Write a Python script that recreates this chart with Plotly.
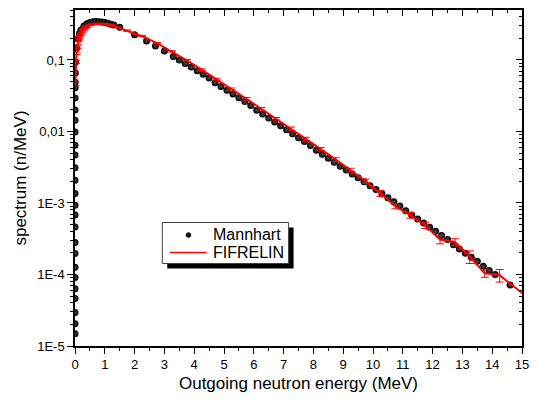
import plotly.graph_objects as go

# ---------------- data ----------------
mann_E = [4.9e-10, 9.4e-10, 1.9e-9, 4.8e-9, 8.9e-9, 1.9e-8, 3.6e-8, 8.7e-8, 1.8e-7,
          4.8e-7, 1.0e-6, 1.9e-6, 4.2e-6, 9.7e-6, 2.2e-5, 5.0e-5, 9.2e-5, 2.2e-4,
          4.7e-4, 9.0e-4, 1.9e-3, 3.8e-3, 5.4e-3, 9.8e-3,
          0.02, 0.05, 0.1, 0.15, 0.2, 0.3, 0.4, 0.5, 0.6, 0.7, 0.8, 0.9, 1.0,
          1.1, 1.2, 1.3, 1.5, 2.0, 2.4, 2.7, 3.0, 3.3, 3.5, 3.7, 3.9, 4.1, 4.3,
          4.5, 4.7, 4.9, 5.1, 5.3, 5.5, 5.7, 5.9, 6.1, 6.3, 6.5, 6.7, 6.9, 7.1,
          7.3, 7.5, 7.7, 7.9, 8.1, 8.3, 8.5, 8.7, 8.9, 9.1, 9.3, 9.5, 9.7, 9.9,
          10.1, 10.3, 10.5, 10.7, 10.9, 11.1, 11.3, 11.5, 11.7, 11.9, 12.1, 12.3,
          12.5, 12.7, 12.9, 13.1, 13.3, 13.5, 13.7, 13.9, 14.1, 14.6]
mann_spec = [1.48e-5, 2.04e-5, 2.93e-5, 4.6e-5, 6.3e-5, 9.1e-5, 1.26e-4, 1.97e-4, 2.8e-4,
             4.6e-4, 6.8e-4, 9.3e-4, 1.36e-3, 2.08e-3, 3.1e-3, 4.7e-3, 6.4e-3, 9.8e-3,
             1.44e-2, 2.0e-2, 2.94e-2, 4.1e-2, 4.9e-2, 6.6e-2,
             0.0939, 0.1454, 0.1985, 0.2347, 0.2617, 0.2987, 0.3214, 0.3349, 0.3419,
             0.3442, 0.3429, 0.3391, 0.3331, 0.3255, 0.3168, 0.3074, 0.2868, 0.2260,
             0.1849, 0.1572, 0.1340, 0.1116, 0.0997, 0.0891, 0.0795, 0.0708, 0.0630,
             0.0560, 0.0481, 0.0427, 0.0378, 0.0335, 0.0297, 0.0262, 0.0231, 0.01981,
             0.01749, 0.01544, 0.01361, 0.01199, 0.01057, 0.00931, 0.00820, 0.00722,
             0.00635, 0.00546, 0.00480, 0.00422, 0.00371, 0.00327, 0.00289, 0.00255,
             0.00225, 0.00198, 0.00174, 0.00154, 0.00135, 0.00118, 0.00104, 0.000908,
             0.000778, 0.000681, 0.000597, 0.000523, 0.000458, 0.000401, 0.000351,
             0.000308, 0.000260, 0.000228, 0.000199, 0.000174, 0.000153, 0.000130,
             0.000114, 0.0000998, 0.0000714]

fif_E = [0.01, 0.03, 0.05, 0.075, 0.1, 0.125, 0.15, 0.2, 0.25, 0.3, 0.35, 0.4, 0.5,
         0.6, 0.7, 0.8, 0.9, 1.0, 1.125, 1.25, 1.75, 2.25, 2.75, 3.25, 3.75, 4.25,
         4.75, 5.25, 5.75, 6.25, 6.75, 7.25, 7.75, 8.25, 8.75, 9.25, 9.75, 10.25,
         10.75, 11.25, 11.75, 12.25, 12.75, 13.25, 13.75, 14.25, 15.25]
fif_spec = [0.047, 0.094, 0.124, 0.151, 0.173, 0.191, 0.207, 0.233, 0.253, 0.269, 0.282,
            0.293, 0.307, 0.315, 0.319, 0.319, 0.319, 0.317, 0.311, 0.303, 0.257, 0.215,
            0.172, 0.132, 0.0987, 0.0731, 0.0539, 0.0394, 0.0287, 0.0208, 0.01507,
            0.01098, 0.00790, 0.00567, 0.00405, 0.00289, 0.00202, 0.00136, 0.00090,
            0.000675, 0.000489, 0.000308, 0.000285, 0.000178, 0.000104, 0.000098,
            0.0000454]
fif_relerr_pct = [6, 5, 4, 4, 4, 3, 3, 3, 3, 3, 3, 3, 2, 2, 2, 2, 2, 2, 2, 2, 2, 2, 2, 2,
                  3, 3, 3, 3, 4, 4, 4, 5, 5, 5, 6, 6, 7, 9, 8, 9, 10, 13, 11, 20, 12, 20, 0]

x_tickvals = list(range(0, 16))
y_tickvals = [1e-5, 1e-4, 1e-3, 1e-2, 1e-1]
y_ticktext = ["1E-5", "1E-4", "1E-3", "0,01", "0,1"]
legend_names = ["Mannhart", "FIFRELIN"]

# ---------------- figure ----------------
FONT = "Liberation Sans, Arial, sans-serif"
W, H = 539, 403
ML, MR, MT, MB = 75, 11, 10, 57
PW, PH = W - ML - MR, H - MT - MB


def px2x(px):
    return (px - ML) / PW


def py2y(py):
    return 1 - (py - MT) / PH


fif_err = [v * p / 100.0 for v, p in zip(fif_spec, fif_relerr_pct)]

y_minor = [m * d for d in [1e-5, 1e-4, 1e-3, 1e-2, 1e-1] for m in range(2, 10) if m * d <= 0.5]
x_minor = [i + 0.5 for i in range(15)]
x_range = [0, 15]
y_range = [-5, -0.30103]

fig = go.Figure()
fig.add_trace(go.Scatter(
    x=mann_E, y=mann_spec, mode="markers", name=legend_names[0], showlegend=False,
    marker=dict(size=7, color="#000000", line=dict(width=0),
                gradient=dict(type="radial", color="#4a4a4a")),
))
fig.add_trace(go.Scatter(
    x=fif_E, y=fif_spec, mode="lines", name=legend_names[1], showlegend=False,
    line=dict(color="#ff0000", width=2),
    error_y=dict(type="data", array=fif_err, visible=True, color="#ff0000",
                 thickness=1, width=4),
))
# dummy trace for the mirrored (top/right) frame axes
fig.add_trace(go.Scatter(x=[None], y=[None], xaxis="x2", yaxis="y2",
                         showlegend=False, hoverinfo="skip"))

axis_common = dict(showline=True, linecolor="black", linewidth=1.5, showgrid=False,
                   zeroline=False, tickcolor="black", tickwidth=1.2)

fig.update_layout(
    width=W, height=H,
    margin=dict(l=ML, r=MR, t=MT, b=MB),
    paper_bgcolor="white", plot_bgcolor="white",
    font=dict(family=FONT, color="black", size=13),
    showlegend=False,
    xaxis=dict(range=x_range, tickmode="array", tickvals=x_tickvals, ticks="outside",
               ticklen=6, tickfont=dict(size=13),
               minor=dict(tickvals=x_minor, ticks="outside", ticklen=3.5,
                          tickcolor="black", tickwidth=1.2),
               title=dict(text="Outgoing neutron energy (MeV)", font=dict(size=17),
                          standoff=6),
               **axis_common),
    yaxis=dict(type="log", range=y_range, tickmode="array", tickvals=y_tickvals,
               ticktext=y_ticktext, ticks="outside", ticklen=6, tickfont=dict(size=13),
               minor=dict(tickvals=y_minor, ticks="outside", ticklen=3.5,
                          tickcolor="black", tickwidth=1.2),
               title=dict(text="spectrum (n/MeV)", font=dict(size=17), standoff=6),
               **axis_common),
    xaxis2=dict(range=x_range, overlaying="x", side="top", anchor="y", tickmode="array",
                tickvals=x_tickvals, ticks="inside", ticklen=6, showticklabels=False,
                minor=dict(tickvals=x_minor, ticks="inside", ticklen=3.5,
                           tickcolor="black", tickwidth=1.2),
                **axis_common),
    yaxis2=dict(type="log", range=y_range, overlaying="y", side="right", anchor="x",
                tickmode="array", tickvals=y_tickvals, ticks="inside", ticklen=6,
                showticklabels=False,
                minor=dict(tickvals=y_minor, ticks="inside", ticklen=3.5,
                           tickcolor="black", tickwidth=1.2),
                **axis_common),
)

# ---------- legend box (Origin style, with drop shadow) ----------
bx0, bx1, by0, by1 = 163.5, 291.5, 222.5, 263.5
sh = 5
fig.add_shape(type="rect", xref="paper", yref="paper",
              x0=px2x(bx0 + sh), x1=px2x(bx1 + sh), y0=py2y(by1 + sh), y1=py2y(by0 + sh),
              fillcolor="black", line=dict(width=0), layer="above")
fig.add_shape(type="rect", xref="paper", yref="paper",
              x0=px2x(bx0), x1=px2x(bx1), y0=py2y(by1), y1=py2y(by0),
              fillcolor="white", line=dict(color="#404040", width=1), layer="above")
# Mannhart symbol
fig.add_shape(type="circle", xref="paper", yref="paper",
              x0=px2x(187.5), x1=px2x(192.5), y0=py2y(237.5), y1=py2y(232.5),
              fillcolor="#111111", line=dict(color="#000000", width=0.5), layer="above")
# FIFRELIN symbol
fig.add_shape(type="line", xref="paper", yref="paper",
              x0=px2x(171), x1=px2x(208.5), y0=py2y(252.5), y1=py2y(252.5),
              line=dict(color="#ff0000", width=1.5), layer="above")
for name, ypx in zip(legend_names, [234.5, 252.5]):
    fig.add_annotation(text=name, xref="paper", yref="paper", x=px2x(212.5), y=py2y(ypx),
                       xanchor="left", yanchor="middle", showarrow=False,
                       font=dict(size=16, family=FONT, color="black"))

fig.write_html("out.html")
